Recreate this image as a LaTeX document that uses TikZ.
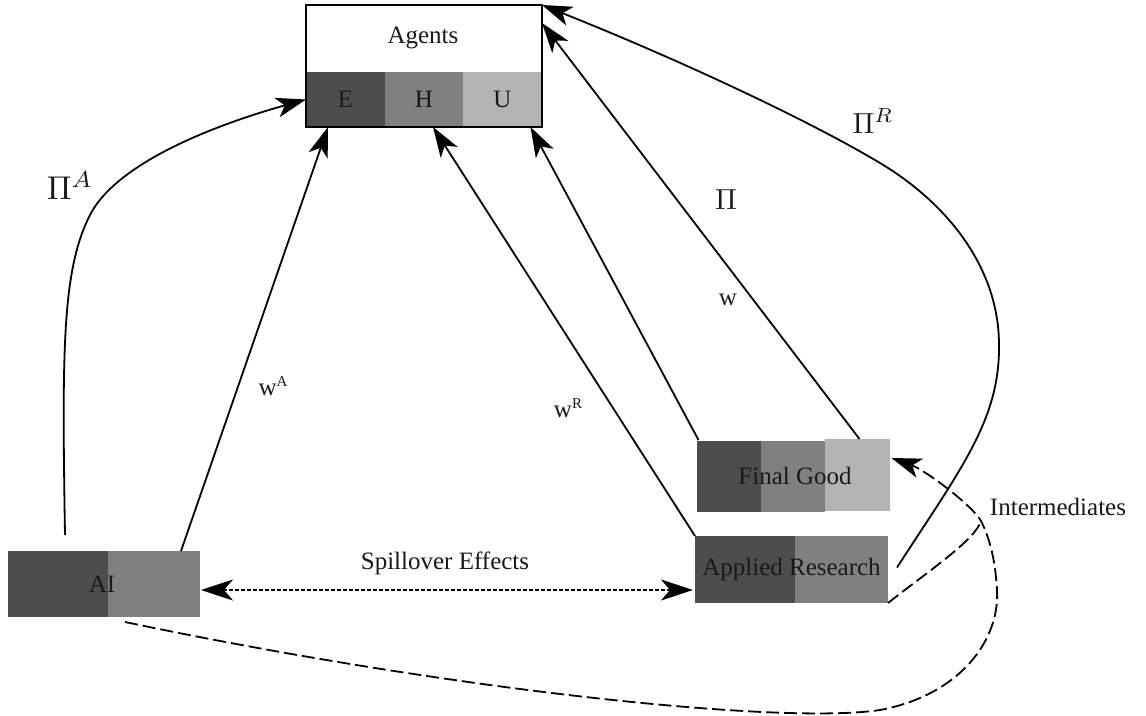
\documentclass[tikz,border=0pt]{standalone}
\usepackage{fontspec}
\setmainfont{Liberation Serif}
\usetikzlibrary{arrows.meta,calc}
\definecolor{cdark}{HTML}{4D4D4D}
\definecolor{cmid}{HTML}{808080}
\definecolor{clight}{HTML}{B3B3B3}
\tikzset{
  cell/.style={inner sep=0pt, outer sep=0pt, draw=none},
  txt/.style={font=\fontsize{25}{30}\selectfont, text=black!90},
  frame/.style={draw, line width=1.8pt, inner sep=0pt, outer sep=0pt},
  lbl/.style={inner sep=0pt, text=black!90},
  tip/.style={-{Stealth[length=30pt,width=20pt,inset=8pt]}},
  conn/.style={line width=1.8pt, tip},
  dsh/.style={line width=1.8pt, dash pattern=on 13pt off 5pt},
  spill/.style={line width=1.8pt, dash pattern=on 4pt off 2pt,
     {Stealth[length=32pt,width=21pt,inset=9pt]}-{Stealth[length=32pt,width=21pt,inset=9pt]}}
}
\begin{document}
\begin{tikzpicture}[x=1pt,y=-1pt]
\fill[white] (0,0) rectangle (1146,715);
\useasboundingbox (0,0) rectangle (1146,715);

% Agents
\node[cell, fill=cdark, minimum width=79pt, minimum height=55pt, txt] (E) at (345.5,99.5) {E};
\node[cell, fill=cmid, minimum width=78pt, minimum height=55pt, txt] (H) at (424,99.5) {H};
\node[cell, fill=clight, minimum width=79pt, minimum height=55pt, txt] (U) at (502.5,99.5) {U};
\node[frame, minimum width=236pt, minimum height=122pt] (agents) at (424,66) {};
\node[lbl, txt] (agentslbl) at (423,38) {Agents};

% AI
\node[cell, fill=cdark, minimum width=100pt, minimum height=66pt] (AIa) at (58,584) {};
\node[cell, fill=cmid, minimum width=92pt, minimum height=66pt] (AIb) at (154,584) {};
\node[cell, minimum width=192pt, minimum height=66pt, txt] (AI) at (102,584) {AI};

% Applied Research
\node[cell, fill=cdark, minimum width=100pt, minimum height=67pt] (ARa) at (745,569.5) {};
\node[cell, fill=cmid, minimum width=93pt, minimum height=67pt] (ARb) at (841.5,569.5) {};
\node[cell, minimum width=193pt, minimum height=67pt, txt] (AR) at (791.5,569.5) {Applied Research};

% Final Good
\node[cell, fill=cdark, minimum width=64pt, minimum height=71pt] (FGa) at (729,476.5) {};
\node[cell, fill=cmid, minimum width=64pt, minimum height=71pt] (FGb) at (793,476.5) {};
\node[cell, fill=clight, minimum width=65pt, minimum height=72pt] (FGc) at (857.5,475) {};
\node[cell, minimum width=193pt, minimum height=73pt, txt] (FG) at (795,475.5) {Final Good};

% connectors
\draw[conn] ([xshift=59pt,yshift=16pt]AI.north west) .. controls (62,350) and (62,270) .. (90,215)
   .. controls (118,160) and (225,122) .. (E.west);
\draw[conn] ([xshift=175pt]AI.north west) -- ([xshift=22pt]E.south west);
\draw[conn] (AR.north west) -- ([xshift=9pt]H.south);
\draw[conn] ([yshift=-1pt]FG.north west) -- ([xshift=28pt]U.south);
\draw[conn] ([xshift=161pt]FG.north west) -- ([yshift=-18pt]agents.north east);
\draw[conn] ([xshift=9pt,yshift=2pt]AR.east) .. controls (960,470) and (1000,420) .. (999,345)
   .. controls (999,270) and (950,205) .. (880,163)
   .. controls (810,121) and (680,60) .. (agents.north east);

% spillover
\draw[spill] ([xshift=3pt,yshift=-6pt]AI.east) -- ([xshift=-2pt,yshift=-20.5pt]AR.west);
\node[lbl, txt] (spilllbl) at (445,563) {Spillover Effects};

% intermediates
\coordinate (cusp) at (981,521);
\draw[dsh] (AR.south east) .. controls (930,570) and (975,540) .. (cusp);
\draw[dsh, tip] ([xshift=119pt,yshift=-5pt]AI.south west) .. controls (450,690) and (780,725) .. (880,710)
   .. controls (960,695) and (1000,640) .. (997,590)
   .. controls (995,555) and (988,535) .. (cusp)
   .. controls (972,505) and (925,470) .. ([yshift=-19pt]FG.north east);
\node[lbl, txt] (interlbl) at (1058,507) {Intermediates};

% labels
\node[lbl, scale=3.3] (piA) at (70,186) {$\Pi^{A}$};
\node[lbl, scale=2.9] (pi) at (726,200) {$\Pi$};
\node[lbl, scale=2.9] (piR) at (873,121) {$\Pi^{R}$};
\node[lbl, txt] (wA) at (273,386) {w\raisebox{9pt}{\fontsize{15}{15}\selectfont A}};
\node[lbl, txt] (wR) at (568,408) {w\raisebox{9pt}{\fontsize{15}{15}\selectfont R}};
\node[lbl, txt] (w) at (728,300) {w};
\end{tikzpicture}
\end{document}
